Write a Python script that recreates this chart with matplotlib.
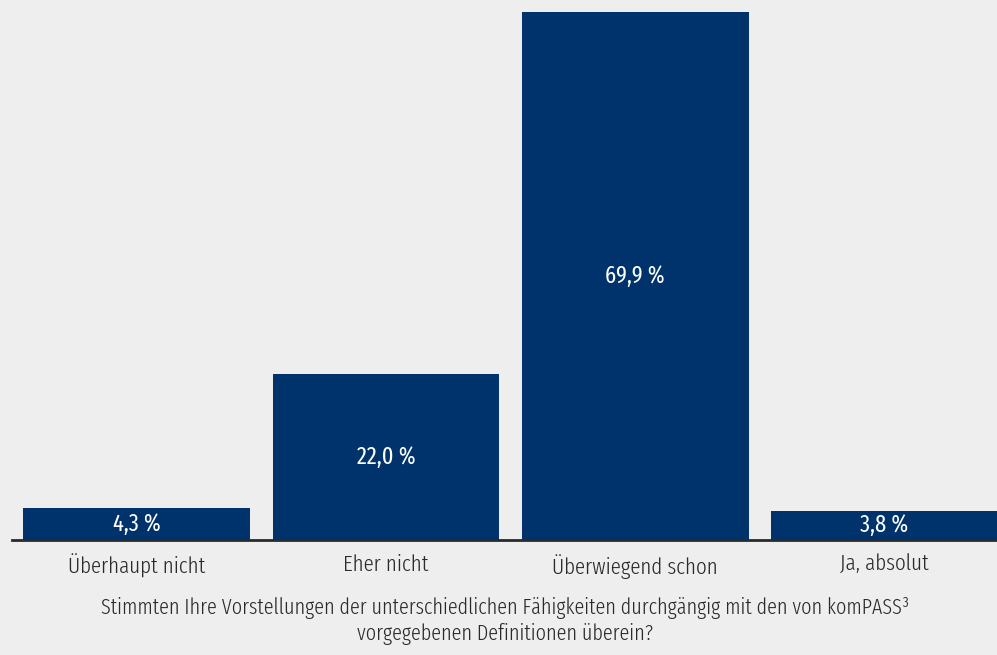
import matplotlib
matplotlib.use("Agg")
import matplotlib.pyplot as plt

# === Daten ===
kategorien = ["Überhaupt nicht", "Eher nicht", "Überwiegend schon", "Ja, absolut"]
anteile = [4.3, 22.0, 69.9, 3.8]
beschriftungen = ["4,3 %", "22,0 %", "69,9 %", "3,8 %"]
frage = ("Stimmten Ihre Vorstellungen der unterschiedlichen Fähigkeiten durchgängig mit den von komPASS³\n"
         "vorgegebenen Definitionen überein?")

HINTERGRUND = "#eeeeee"
BALKEN = "#00336b"
TEXT = "#2a2a2a"

plt.rcParams["font.family"] = ["Fira Sans Extra Condensed", "Fira Sans Condensed", "DejaVu Sans"]
plt.rcParams["font.weight"] = 300

fig = plt.figure(figsize=(9.97, 6.55), dpi=100, facecolor=HINTERGRUND)
ax = fig.add_axes([12 / 997, 115 / 655, 997.2 / 997, 528.76 / 655])
ax.set_facecolor(HINTERGRUND)

x = range(len(kategorien))
ax.bar(x, anteile, width=0.91, color=BALKEN, zorder=2)

# === Werte in die Balken ===
for i, (wert, txt) in enumerate(zip(anteile, beschriftungen)):
    ax.text(i, wert / 2, txt, ha="center", va="center", color="white",
            fontsize=17.5, fontweight="normal")

ax.set_xlim(-0.5, 3.5)
ax.set_ylim(0, 70)
ax.set_xticks(list(x))
ax.set_xticklabels(kategorien, fontsize=16.5, color=TEXT, fontweight=300)
ax.tick_params(axis="x", length=0, pad=10)
ax.set_yticks([])

for s in ["top", "right", "left"]:
    ax.spines[s].set_visible(False)
ax.spines["bottom"].set_color(TEXT)
ax.spines["bottom"].set_linewidth(2)
ax.spines["bottom"].set_zorder(3)

fig.text(505 / 997, 1 - 621 / 655, frage, ha="center", va="center",
         fontsize=15.8, color=TEXT, linespacing=1.25, fontweight=300)

fig.savefig("out.png", dpi=100, facecolor=HINTERGRUND)
